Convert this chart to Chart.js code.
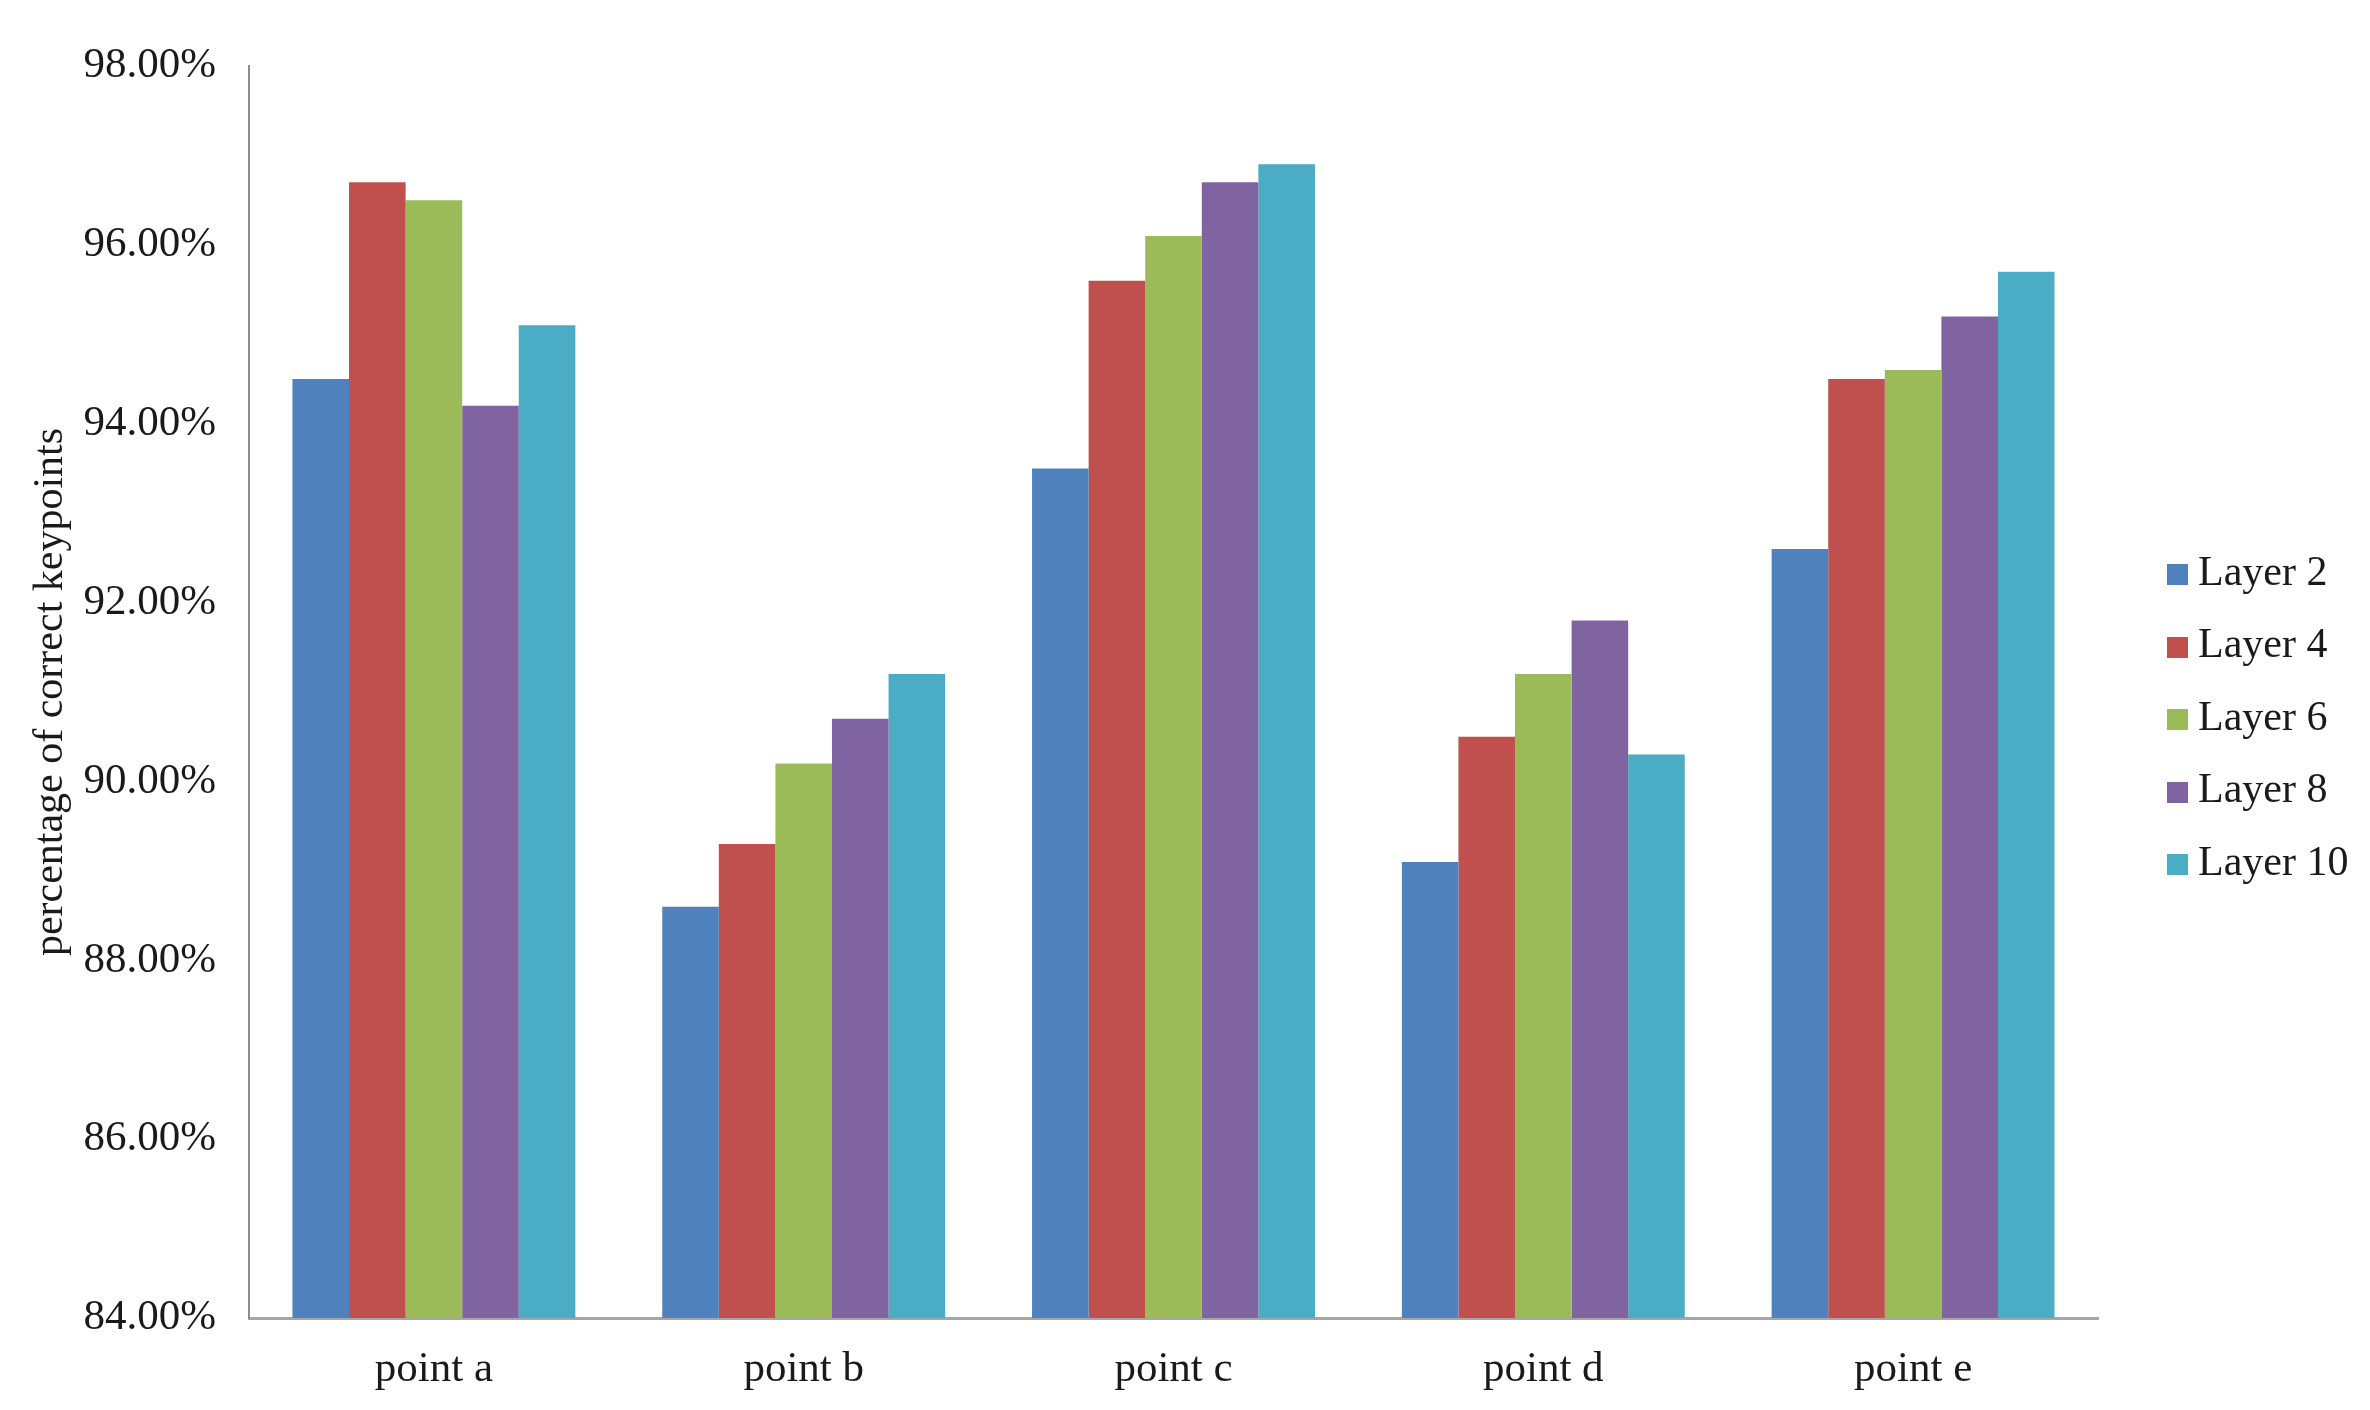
<!DOCTYPE html>
<html lang="en">
<head>
    <meta charset="UTF-8">
    <title>Percentage of correct keypoints</title>
    <script src="https://cdn.jsdelivr.net/npm/chart.js"></script>
    <style>
        body { margin: 0; background: #fff; }
        #wrap { position: relative; width: 2370px; height: 1410px; }
        #legend { position: absolute; left: 2167px; top: 0; font-family: "Liberation Serif", "DejaVu Serif", serif; font-size: 42px; color: #1a1a1a; }
        .item { position: absolute; left: 0; height: 70px; display: flex; align-items: center; white-space: nowrap; }
        .swatch { width: 21px; height: 21px; margin-right: 10px; position: relative; top: 4px; }
    </style>
</head>
<body>
    <div id="wrap">
        <canvas id="chart" width="2370" height="1410"></canvas>
        <div id="legend"></div>
    </div>
    <script>
        // data
        const categories = ['point a', 'point b', 'point c', 'point d', 'point e'];
        const seriesNames = ['Layer 2', 'Layer 4', 'Layer 6', 'Layer 8', 'Layer 10'];
        const layer2  = [94.5, 88.6, 93.5, 89.1, 92.6];
        const layer4  = [96.7, 89.3, 95.6, 90.5, 94.5];
        const layer6  = [96.5, 90.2, 96.1, 91.2, 94.6];
        const layer8  = [94.2, 90.7, 96.7, 91.8, 95.2];
        const layer10 = [95.1, 91.2, 96.9, 90.3, 95.7];
        const colors = ['#4F81BD', '#C0504D', '#9BBB59', '#8064A2', '#4BACC6'];

        const allSeries = [layer2, layer4, layer6, layer8, layer10];
        const serif = '"Liberation Serif", "DejaVu Serif", serif';

        const ctx = document.getElementById('chart').getContext('2d');
        const chart = new Chart(ctx, {
            type: 'bar',
            data: {
                labels: categories,
                datasets: allSeries.map((vals, i) => ({
                    label: seriesNames[i],
                    data: vals,
                    backgroundColor: colors[i],
                    borderWidth: 0,
                    barPercentage: 1.0,
                    categoryPercentage: 0.765
                }))
            },
            options: {
                responsive: false,
                animation: false,
                layout: { padding: { left: 22, right: 272, top: 66, bottom: 0 } },
                plugins: {
                    tooltip: { enabled: false },
                    legend: { display: false }
                },
                scales: {
                    x: {
                        grid: { display: false, drawTicks: false },
                        border: { color: '#A6A6A6', width: 3 },
                        ticks: {
                            font: { family: serif, size: 43 },
                            color: '#1a1a1a',
                            padding: 26
                        },
                        afterFit: s => { s.height = 92; }
                    },
                    y: {
                        min: 84,
                        max: 98,
                        grid: { display: false, drawTicks: false },
                        border: { color: '#8C8C8C', width: 2 },
                        ticks: {
                            stepSize: 2,
                            font: { family: serif, size: 43 },
                            color: '#1a1a1a',
                            padding: 33,
                            callback: v => v.toFixed(2) + '%'
                        },
                        title: {
                            display: true,
                            text: 'percentage of correct keypoints',
                            font: { family: serif, size: 42 },
                            color: '#1a1a1a',
                            padding: { top: 4, bottom: 8 }
                        },
                        afterFit: s => { s.width = 227; }
                    }
                }
            }
        });

        // legend on the right, built from the series names and colours
        const legend = document.getElementById('legend');
        seriesNames.forEach((name, i) => {
            const item = document.createElement('div');
            item.className = 'item';
            item.style.top = (680.5 + (i - 2) * 72.5) + 'px';
            const sw = document.createElement('span');
            sw.className = 'swatch';
            sw.style.background = colors[i];
            const txt = document.createElement('span');
            txt.textContent = name;
            item.appendChild(sw);
            item.appendChild(txt);
            legend.appendChild(item);
        });
    </script>
</body>
</html>
